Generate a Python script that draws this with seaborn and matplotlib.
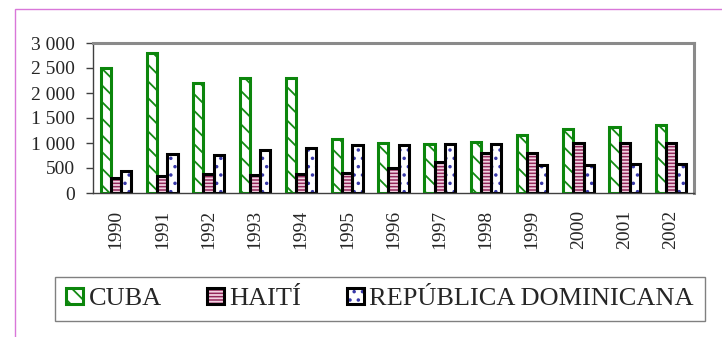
import numpy as np
import pandas as pd
import matplotlib
matplotlib.use("Agg")
import matplotlib.pyplot as plt
import seaborn as sns
from matplotlib.patches import Patch, Rectangle

years = ["1990", "1991", "1992", "1993", "1994", "1995", "1996",
         "1997", "1998", "1999", "2000", "2001", "2002"]
countries = ["CUBA", "HAITÍ", "REPÚBLICA DOMINICANA"]
cuba = [2500, 2800, 2200, 2300, 2300, 1080, 1000, 990, 1030, 1160, 1280, 1320, 1360]
haiti = [300, 350, 390, 360, 390, 400, 500, 620, 810, 810, 1010, 1010, 1010]
rep_dom = [440, 790, 760, 860, 910, 960, 960, 980, 980, 560, 560, 580, 590]
y_ticks = [0, 500, 1000, 1500, 2000, 2500, 3000]

# face, hatch colour, hatch, outline
STYLES = {
    "CUBA": ("white", "#138a13", "\\\\", "#0c860c"),
    "HAITÍ": ("#93275a", "#f3d3e3", "-----", "#000000"),
    "REPÚBLICA DOMINICANA": ("white", "#3838a8", "..", "#000000"),
}

df = pd.DataFrame({
    "year": np.repeat(years, 3),
    "country": countries * len(years),
    "value": np.ravel(np.column_stack([cuba, haiti, rep_dom])),
})

sns.set_style("white")
plt.rcParams["font.family"] = ["Liberation Serif", "DejaVu Serif"]
plt.rcParams["hatch.linewidth"] = 1.3

fig = plt.figure(figsize=(7.22, 3.37), dpi=100)
ax = fig.add_axes([93 / 722, 1 - 193 / 337, (694 - 93) / 722, 150 / 337])

sns.barplot(data=df, x="year", y="value", hue="country", hue_order=countries,
            order=years, width=0.66, gap=0, legend=False, ax=ax,
            palette=["white"] * 3, saturation=1)

lw = 2.2
for cont, name in zip(ax.containers, countries):
    face, hcol, hatch, edge = STYLES[name]
    for bar in cont:
        bar.set_facecolor(face)
        bar.set_edgecolor(hcol)
        bar.set_hatch(hatch)
        bar.set_linewidth(0)
        ax.add_patch(Rectangle(bar.get_xy(), bar.get_width(), bar.get_height(),
                               fill=False, edgecolor=edge, linewidth=lw,
                               zorder=bar.get_zorder() + 0.1))

ax.set_xlim(-0.5, len(years) - 0.5)
ax.set_ylim(0, 3000)
ax.set_yticks(y_ticks)
ax.set_yticklabels([f"{v:,}".replace(",", " ") for v in y_ticks], fontsize=14)
ax.set_xticks(range(len(years)))
ax.set_xticklabels(years, rotation=90, fontsize=14)
ax.set_xticks(np.arange(-0.5, len(years)), minor=True)
ax.tick_params(axis="x", which="major", length=0, pad=12)
ax.tick_params(axis="x", which="minor", length=6, width=1, color="#404040", direction="out")
ax.tick_params(axis="y", length=5, width=1, color="#404040", direction="out", pad=8, left=True)
ax.set_xlabel("")
ax.set_ylabel("")
for s in ["left", "bottom"]:
    ax.spines[s].set_color("#404040")
    ax.spines[s].set_linewidth(1.0)
for s in ["top", "right"]:
    ax.spines[s].set_color("#8a8a8a")
    ax.spines[s].set_linewidth(2.2)
    ax.spines[s].set_visible(True)

handles = []
for name in countries:
    face, hcol, hatch, edge = STYLES[name]
    handles.append((Patch(facecolor=face, edgecolor=hcol, hatch=hatch, linewidth=0),
                    Patch(fill=False, edgecolor=edge, linewidth=2.2)))
leg = fig.legend(handles, countries, ncol=3, loc="center",
                 bbox_to_anchor=(380 / 722, 1 - 299 / 337),
                 fontsize=19, frameon=True, fancybox=False,
                 handlelength=0.64, handleheight=0.57, handletextpad=0.2,
                 columnspacing=1.73, borderpad=0.42)
leg.get_frame().set_edgecolor("#606060")
leg.get_frame().set_linewidth(1.0)

fig.patches.append(Rectangle((15 / 722, -0.1), 1.2, 1 - 9 / 337 + 0.1,
                             transform=fig.transFigure, fill=False,
                             edgecolor="#d977d9", linewidth=1.0))

fig.savefig("out.png", dpi=100)
